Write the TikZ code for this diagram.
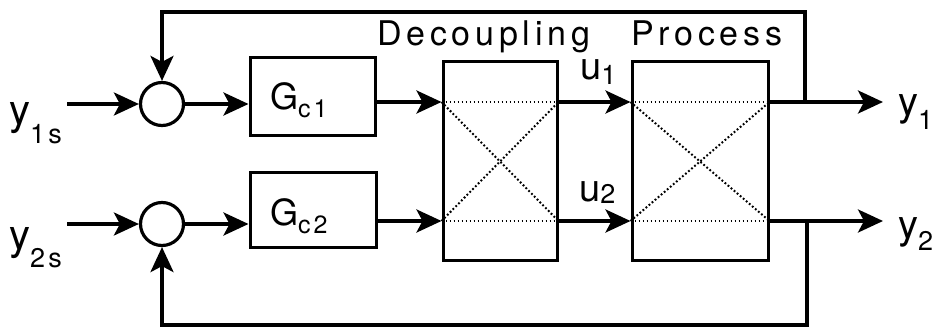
\documentclass[tikz,border=0pt]{standalone}
\usepackage{fontspec}
\setmainfont{TeX Gyre Heros}
\newfontfamily\spacedfont[LetterSpace=14]{TeX Gyre Heros}
\newfontfamily\subfont[LetterSpace=12]{TeX Gyre Heros}
\usetikzlibrary{arrows.meta}
\newcommand{\lbl}[5]{{\fontsize{#4}{#4}\selectfont #1}\raisebox{-#3}{\fontsize{#5}{#5}\subfont #2}}
\begin{document}
\begin{tikzpicture}[x=1pt,y=-1pt,
  arr/.style={line width=3.4pt,-{Stealth[length=25pt,width=23pt,inset=6pt]}},
  blk/.style={draw,line width=3pt,inner sep=0pt},
  sumj/.style={draw,circle,line width=3.2pt,minimum size=43pt,inner sep=0pt},
  dots/.style={line width=2pt,dash pattern=on 1.8pt off 2.2pt},
  txt/.style={inner sep=0pt,anchor=base west},
  ]
\useasboundingbox (0,0) rectangle (940,329);
% rows
\coordinate (rowA) at (0,102);
\coordinate (rowB) at (0,221);
% blocks
\node[blk,minimum width=125pt,minimum height=77pt] (g1) at (312.5,96.5) {};
\node[blk,minimum width=126pt,minimum height=75pt] (g2) at (313,209.5) {};
\node[blk,minimum width=114pt,minimum height=198pt] (dec) at (500,161) {};
\node[blk,minimum width=136pt,minimum height=198pt] (proc) at (700,161) {};
\node[sumj] (s1) at (162,104) {};
\node[sumj] (s2) at (162,224) {};
% block texts
\node[txt] (g1t) at (270,110) {\lbl{G}{c1}{8pt}{36}{25}};
\node[txt] (g2t) at (270,225) {\lbl{G}{c2}{8pt}{36}{25}};
\node[txt] (dect) at (377,46) {\fontsize{34}{38}\spacedfont Decoupling};
\node[txt] (proct) at (631,46) {\fontsize{34}{38}\spacedfont Process};
% inputs / outputs
\coordinate (in1) at (67,104);
\coordinate (in2) at (67,224);
\coordinate (out1) at (883,102);
\coordinate (out2) at (883,221);
\coordinate (tap1) at (805,102);
\coordinate (tap2) at (807,221);
\node[txt] (y1s) at (9,124) {\lbl{y}{1s}{20pt}{42}{27}};
\node[txt] (y2s) at (9,249) {\lbl{y}{2s}{18pt}{42}{27}};
\node[txt] (y1) at (898,115) {\lbl{y}{1}{14pt}{40}{27}};
\node[txt] (y2) at (898,238) {\lbl{y}{2}{12pt}{40}{27}};
\node[txt] (u1) at (580,80) {\lbl{u}{1}{5pt}{38}{27}};
\node[txt] (u2) at (579,201) {\lbl{u}{2}{2pt}{38}{27}};
% dotted internals
\foreach \b in {dec,proc}{
  \draw[dots] (\b.west|-rowA) -- (\b.east|-rowA);
  \draw[dots] (\b.west|-rowB) -- (\b.east|-rowB);
  \draw[dots] (\b.west|-rowA) -- (\b.east|-rowB);
  \draw[dots] (\b.west|-rowB) -- (\b.east|-rowA);
}
% connectors
\draw[arr] (in1) -- (s1.west);
\draw[arr] (in2) -- (s2.west);
\draw[arr] (s1.east) -- (g1.west|-s1.east);
\draw[arr] (s2.east) -- (g2.west|-s2.east);
\draw[arr] (g1.east|-rowA) -- (dec.west|-rowA);
\draw[arr] (g2.east|-rowB) -- (dec.west|-rowB);
\draw[arr] (dec.east|-rowA) -- (proc.west|-rowA);
\draw[arr] (dec.east|-rowB) -- (proc.west|-rowB);
\draw[arr] (proc.east|-rowA) -- (out1);
\draw[arr] (proc.east|-rowB) -- (out2);
\draw[arr] (tap1) -- ++(0,-90) -| (s1.north);
\draw[arr] (tap2) -- ++(0,104) -| (s2.south);
\end{tikzpicture}
\end{document}
